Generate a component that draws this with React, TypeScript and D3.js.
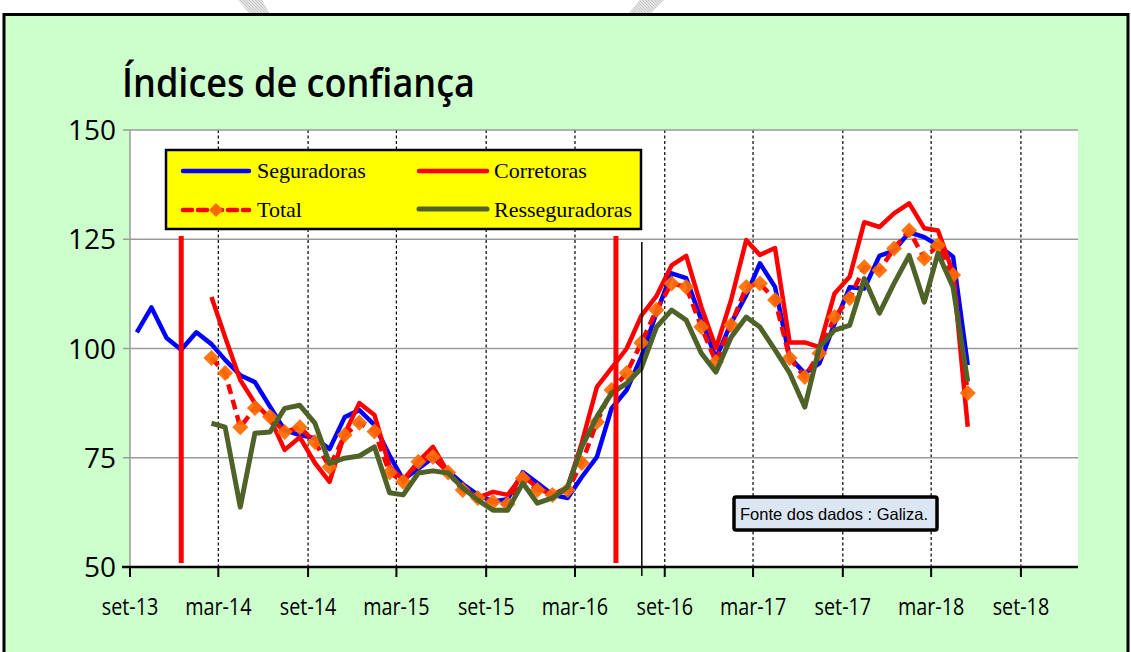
import React from "react";
import * as d3 from "d3";

const months = [
  "2013-09","2013-10","2013-11","2013-12","2014-01","2014-02","2014-03","2014-04","2014-05","2014-06","2014-07","2014-08",
  "2014-09","2014-10","2014-11","2014-12","2015-01","2015-02","2015-03","2015-04","2015-05","2015-06","2015-07","2015-08",
  "2015-09","2015-10","2015-11","2015-12","2016-01","2016-02","2016-03","2016-04","2016-05","2016-06","2016-07","2016-08",
  "2016-09","2016-10","2016-11","2016-12","2017-01","2017-02","2017-03","2017-04","2017-05","2017-06","2017-07","2017-08",
  "2017-09","2017-10","2017-11","2017-12","2018-01","2018-02","2018-03","2018-04","2018-05",
];

const seguradoras = [
  103.7,109.4,102.4,99.7,103.7,101,97.4,93.9,92.3,86.7,81.3,80.2,79.5,77,84.3,85.9,82.5,75.5,70,72.5,75,72,69,66.5,65,65.5,
  71.7,69.2,66.5,65.8,70.6,75.2,86.3,90.5,98.1,108.1,117.2,116.1,106.5,97.8,105.8,112.2,119.5,114.1,98,94.3,96.6,105.7,114,
  113.7,121.2,122.4,126.6,125.5,123.6,121,96.2,
];

const corretoras = [
  null,null,null,null,null,
  111.8,102.6,92.8,87.5,84,76.8,79.7,73.8,69.5,80.5,87.5,84.8,73,69.9,74.1,77.5,71.6,68.1,65.8,67.2,66.5,71,68.1,66.5,68.3,
  78.4,91.2,95.5,100,107.5,112,119,121.2,109.5,100.1,111.1,124.8,121.4,123,101.4,101.4,100.3,112.6,116.4,128.9,127.8,130.9,
  133.2,127.5,127,117.3,82.1,
];

const total = [
  null,null,null,null,null,
  97.8,94.4,82,86.4,84.4,80.9,82,78.6,72.9,80.2,83,81,71.6,69.5,74.1,75.2,71.6,67.6,65.8,64.9,64.4,70.3,67.6,66.5,67.6,
  73.8,83.2,90.5,94.4,101.3,108.8,114.9,114.1,104.9,96.9,105.4,114.1,114.9,111.1,97.8,93.5,98.9,107.2,111.5,118.6,117.9,
  122.9,127,120.6,123.6,116.8,89.8,
];

const resseguradoras = [
  null,null,null,null,null,
  82.9,82,63.7,80.6,80.9,86.3,87,82.9,73.7,74.9,75.4,77.5,67,66.5,71.5,72,71.5,68.1,65.3,63,63,69.2,64.6,65.8,68.3,
  77.5,84.4,89.8,92,95.5,104.9,108.8,106.5,98.9,94.6,102.6,107.2,104.9,99.7,94.4,86.6,100.3,104.2,105.3,116,108.1,114.9,
  121.3,110.6,121.8,114,92.4,
];

const xTickLabels = ["set-13","mar-14","set-14","mar-15","set-15","mar-16","set-16","mar-17","set-17","mar-18","set-18"];
const xTickDates = ["2013-09-01","2014-03-01","2014-09-01","2015-03-01","2015-09-01","2016-03-01","2016-09-01","2017-03-01","2017-09-01","2018-03-01","2018-09-01"];
const yTicks = [50, 75, 100, 125, 150];
const redMarkerDates = ["2013-12-15", "2016-05-24"];
const blackMarkerDate = "2016-07-16";

const W = 1131, H = 652;
const PL = 130, PR = 1078, PT = 130, PB = 567;

const parse = d3.utcParse("%Y-%m-%d");
const x = d3.scaleUtc().domain([parse("2013-09-01")!, parse("2018-12-27")!]).range([PL, PR]);
const y = d3.scaleLinear().domain([50, 150]).range([PB, PT]);
const monthDate = (m: string) => parse(m + "-15")!;

function linePath(vals: (number | null)[]) {
  const gen = d3.line<[string, number | null]>()
    .defined((d) => d[1] != null)
    .x((d) => x(monthDate(d[0])))
    .y((d) => y(d[1] as number));
  return gen(months.map((m, i) => [m, vals[i]]))!;
}

const serifF = "'Liberation Serif', 'Times New Roman', serif";
const sansF = "'Open Sans', 'Noto Sans', sans-serif";

export default function App() {
  const diamond = (cx: number, cy: number, r: number) =>
    `M${cx},${cy - r}L${cx + r},${cy}L${cx},${cy + r}L${cx - r},${cy}Z`;
  return (
    <div style={{ position: "absolute", left: 0, top: 0 }}>
      <svg width={W} height={H} style={{ display: "block" }}>
        <defs>
          <pattern id="hatch" width="3" height="3" patternUnits="userSpaceOnUse">
            <rect width="3" height="3" fill="#e4e4e4" />
            <path d="M0,0L3,3" stroke="#bdbdbd" strokeWidth="0.8" />
          </pattern>
        </defs>
        <rect x={0} y={0} width={W} height={H} fill="#ffffff" />
        {/* watermark fragments */}
        <path d="M238,0L262,0L270,14L250,14Z" fill="url(#hatch)" />
        <path d="M640,0L664,0L650,14L628,14Z" fill="url(#hatch)" />
        {/* frame */}
        <rect x={4} y={14.5} width={1124} height={650} fill="#CCFFCC" stroke="#000" strokeWidth={3} />
        {/* title */}
        <text x={122} y={97} fontFamily={sansF} fontWeight={600} fontSize={40} fill="#000"
          textLength={353} lengthAdjust="spacingAndGlyphs">Índices de confiança</text>
        {/* plot area */}
        <rect x={PL} y={PT} width={PR - PL} height={PB - PT} fill="#ffffff" />
        {/* vertical dotted */}
        {xTickDates.slice(1).map((d, i) => (
          <line key={"v" + i} x1={x(parse(d)!)} x2={x(parse(d)!)} y1={PT} y2={PB}
            stroke="#000" strokeWidth={1.2} strokeDasharray="3,2.5" />
        ))}
        {/* horizontal grid */}
        {yTicks.slice(1).map((t) => (
          <line key={"h" + t} x1={PL} x2={PR} y1={y(t)} y2={y(t)} stroke="#9a9a9a" strokeWidth={1.5} />
        ))}
        <line x1={PL} x2={PL} y1={PT} y2={PB} stroke="#9a9a9a" strokeWidth={1.5} />
        {yTicks.map((t) => (
          <g key={"yt" + t}>
            <line x1={PL - 7} x2={PL} y1={y(t)} y2={y(t)} stroke="#9a9a9a" strokeWidth={1.5} />
            <text x={116} y={y(t) + 10} textAnchor="end" fontFamily={sansF} fontSize={28} fill="#000">{t}</text>
          </g>
        ))}
        {/* x axis */}
        <line x1={PL - 8} x2={PR} y1={PB} y2={PB} stroke="#000" strokeWidth={2.5} />
        {xTickDates.map((d, i) => (
          <g key={"xt" + i}>
            <line x1={x(parse(d)!)} x2={x(parse(d)!)} y1={PB} y2={PB + 10} stroke="#000" strokeWidth={2} />
            <text transform={`translate(${x(parse(d)!)},615) scale(0.86,1)`} textAnchor="middle"
              fontFamily={sansF} fontSize={23} fill="#000">{xTickLabels[i]}</text>
          </g>
        ))}
        {/* series */}
        <path d={linePath(seguradoras)} fill="none" stroke="#0000FF" strokeWidth={4.5} strokeLinejoin="round" />
        <path d={linePath(corretoras)} fill="none" stroke="#FF0000" strokeWidth={4.5} strokeLinejoin="round" />
        <path d={linePath(total)} fill="none" stroke="#FF0000" strokeWidth={4.5} strokeDasharray="10,6" />
        {months.map((m, i) => total[i] != null ? (
          <path key={"dm" + i} d={diamond(x(monthDate(m)), y(total[i] as number), 8)} fill="#FF6A00" opacity={0.92} />
        ) : null)}
        <path d={linePath(resseguradoras)} fill="none" stroke="#4F6228" strokeWidth={5} strokeLinejoin="round" />
        {/* annotation lines */}
        {redMarkerDates.map((d, i) => (
          <line key={"rm" + i} x1={x(parse(d)!)} x2={x(parse(d)!)} y1={236} y2={563} stroke="#FF0000" strokeWidth={5} />
        ))}
        <line x1={x(parse(blackMarkerDate)!)} x2={x(parse(blackMarkerDate)!)} y1={242} y2={576} stroke="#000" strokeWidth={1.5} />
        {/* legend */}
        <rect x={166} y={150} width={475} height={79} fill="#FFFF00" stroke="#000" strokeWidth={2.5} />
        <line x1={183} x2={249} y1={171} y2={171} stroke="#0000FF" strokeWidth={4.5} strokeLinecap="round" />
        <text x={257} y={178} fontFamily={serifF} fontSize={22} fill="#000">Seguradoras</text>
        <line x1={419} x2={487} y1={171} y2={171} stroke="#FF0000" strokeWidth={4.5} strokeLinecap="round" />
        <text x={494} y={178} fontFamily={serifF} fontSize={22} fill="#000">Corretoras</text>
        <line x1={183} x2={249} y1={210} y2={210} stroke="#FF0000" strokeWidth={4.5} strokeDasharray="9,6" strokeLinecap="round" />
        <path d={diamond(216, 210, 7)} fill="#FF6A00" />
        <text x={257} y={217} fontFamily={serifF} fontSize={22} fill="#000">Total</text>
        <line x1={419} x2={487} y1={209} y2={209} stroke="#4F6228" strokeWidth={5} strokeLinecap="round" />
        <text x={494} y={217} fontFamily={serifF} fontSize={22} fill="#000">Resseguradoras</text>
        {/* source box */}
        <rect x={734} y={497} width={203} height={33} rx={2} fill="#DCE6F2" stroke="#000" strokeWidth={3.5} />
        <text x={740} y={519.5} fontFamily="'Liberation Sans', Arial, sans-serif" fontSize={16.5} fill="#000">Fonte dos dados : Galiza.</text>
      </svg>
    </div>
  );
}
